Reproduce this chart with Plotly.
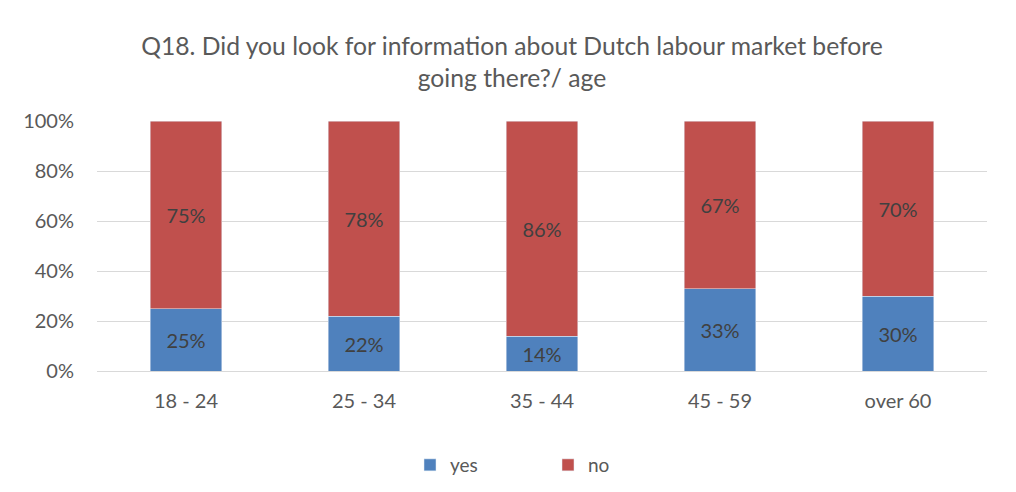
import plotly.graph_objects as go

# age groups and answers (percent)
ages = ["18 - 24", "25 - 34", "35 - 44", "45 - 59", "over 60"]
yes_vals = [25, 22, 14, 33, 30]
no_vals = [75, 78, 86, 67, 70]
y_ticks = [0, 20, 40, 60, 80, 100]
y_tick_text = [f"{v}%" for v in y_ticks]

FONT = "Lato"
fig = go.Figure()

fig.add_trace(go.Bar(x=ages, y=yes_vals, name="yes", marker_color="#4f81bd",
                     text=[f"{v}%" for v in yes_vals], textposition="inside",
                     insidetextanchor="middle",
                     textfont=dict(color="#404040", size=20, family=FONT)))
fig.add_trace(go.Bar(x=ages, y=no_vals, name="no", marker_color="#c0504d",
                     text=[f"{v}%" for v in no_vals], textposition="inside",
                     insidetextanchor="middle",
                     textfont=dict(color="#404040", size=20, family=FONT)))

# page has an 8px body margin, so figure px = page px - 8
W, H = 1008, 484
L, T = 89, 113
pw, ph = 890, 250
R, B = W - L - pw, H - T - ph

fig.update_layout(
    barmode="stack",
    bargap=0.6,
    width=W, height=H,
    margin=dict(l=L, r=R, t=T, b=B, autoexpand=False),
    paper_bgcolor="white", plot_bgcolor="white",
    font=dict(family=FONT, color="#595959", size=20),
    title=dict(text="Q18. Did you look for information about Dutch labour market before<br>going there?/ age",
               x=0.5, xanchor="center", y=1 - 47 / H, yanchor="middle",
               font=dict(size=24.7, color="#595959", family=FONT)),
    showlegend=True,
    legend=dict(orientation="h", x=(540 - L) / pw, xanchor="center",
                y=(T + ph - 457) / ph, yanchor="middle",
                entrywidth=93, entrywidthmode="pixels",
                font=dict(size=19, color="#595959", family=FONT),
                traceorder="normal"),
    uniformtext=dict(minsize=20, mode="show"),
)
fig.update_xaxes(showgrid=False, showline=True, linecolor="#d9d9d9", linewidth=1,
                 ticks="", ticklabelstandoff=12, tickfont=dict(size=20))
fig.update_yaxes(range=[0, 100], tickvals=y_ticks, ticktext=y_tick_text,
                 showgrid=True, gridcolor="#d9d9d9", gridwidth=1, zeroline=False,
                 ticks="", ticklabelstandoff=22, tickfont=dict(size=20))

fig.write_html("out.html")
